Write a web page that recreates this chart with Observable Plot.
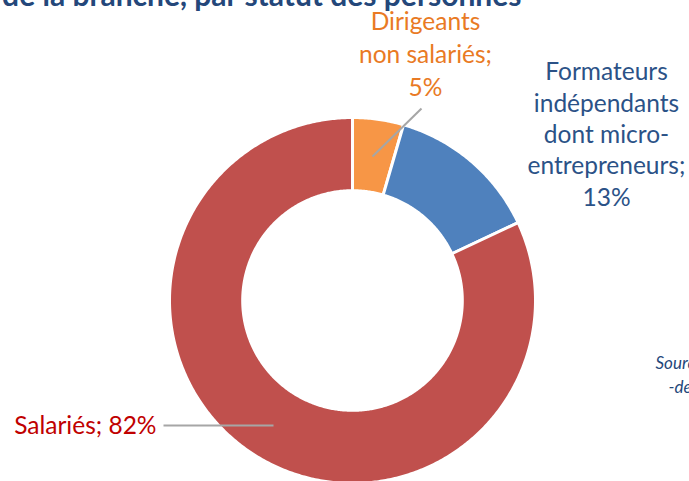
<!DOCTYPE html>
<html><head><meta charset="utf-8">
<script src="https://cdn.jsdelivr.net/npm/d3@7"></script>
<script src="https://cdn.jsdelivr.net/npm/@observablehq/plot@0.6"></script>
<style>
html,body{margin:0;padding:0;background:#fff;overflow:hidden;}
svg{display:block;font-family:Lato,"Open Sans",sans-serif;}
</style></head>
<body><div id="chart"></div>
<script>
// Data
const categories = ["Dirigeants non salariés", "Formateurs indépendants dont micro-entrepreneurs", "Salariés"];
const shares = [4.5, 13.5, 82];
const labelLines = [
  ["Dirigeants", "non salariés;", "5%"],
  ["Formateurs", "indépendants", "dont micro-", "entrepreneurs;", "13%"],
  ["Salariés; 82%"]
];
const sliceColors = ["#F79646", "#4F81BD", "#C0504D"];
const textColors = ["#E97A24", "#2B5287", "#C00000"];
const titleText = "Répartition des effectifs de la branche, par statut des personnes";
const sourceLines = ["Source : enquête de branche", "-de la branche"];

// Layout
const W = 689, H = 481;
const cx = 352, cy = 300, R = 183;  // pixels
const inner = 0.6;
const X = x => (x - cx) / R, Y = y => (cy - y) / R;

const pie = d3.pie().sort(null).value(d => d.v)(categories.map((c, i) => ({c, v: shares[i]})));
const slicePts = [];
pie.forEach(a => {
  const n = Math.max(8, Math.ceil((a.endAngle - a.startAngle) / 0.01));
  const pts = [];
  for (let k = 0; k <= n; k++) { const t = a.startAngle + (a.endAngle - a.startAngle) * k / n; pts.push([Math.sin(t), Math.cos(t)]); }
  for (let k = n; k >= 0; k--) { const t = a.startAngle + (a.endAngle - a.startAngle) * k / n; pts.push([inner * Math.sin(t), inner * Math.cos(t)]); }
  pts.push(pts[0]);
  pts.forEach(p => slicePts.push({cat: a.data.c, x: p[0], y: p[1]}));
});

// label positions (pixels)
const labelPos = [
  {x: 425, y: 22, dy: 33, anchor: "middle"},
  {x: 606, y: 72, dy: 31.3, anchor: "middle"},
  {x: 156, y: 426, dy: 0, anchor: "end"}
];
const labelData = [];
labelLines.forEach((lines, i) => lines.forEach((t, j) => labelData.push({t, i, x: X(labelPos[i].x), y: Y(labelPos[i].y + j * labelPos[i].dy), anchor: labelPos[i].anchor})));

const leaders = [
  {x1: X(372), y1: Y(156), x2: X(421), y2: Y(108)},
  {x1: X(163), y1: Y(425), x2: X(273), y2: Y(425)}
];

const plot = Plot.plot({
  width: W, height: H,
  margin: 0,
  x: {domain: [X(0), X(W)], range: [0, W], axis: null},
  y: {domain: [Y(0), Y(H)], range: [0, H], axis: null},
  color: {domain: categories, range: sliceColors},
  marks: [
    Plot.line(slicePts, {x: "x", y: "y", z: "cat", fill: "cat", stroke: "white", strokeWidth: 3, curve: "linear"}),
    Plot.link(leaders, {x1: "x1", y1: "y1", x2: "x2", y2: "y2", stroke: "#A6A6A6", strokeWidth: 2}),
    Plot.text(labelData.filter(d => d.anchor === "middle"), {x: "x", y: "y", text: "t", fill: d => textColors[d.i], fontSize: 24.5, textAnchor: "middle"}),
    Plot.text(labelData.filter(d => d.anchor === "end"), {x: "x", y: "y", text: "t", fill: d => textColors[d.i], fontSize: 24.5, textAnchor: "end"}),
    Plot.text([titleText], {x: X(521), y: Y(-4), text: d => d, fill: "#24477A", fontSize: 30, fontWeight: "bold", textAnchor: "end"}),
    Plot.text(sourceLines, {x: (d, i) => X(655 + i * 13), y: (d, i) => Y(363 + i * 24), text: d => d, fill: "#24477A", fontSize: 17, fontStyle: "italic", textAnchor: "start"})
  ]
});
document.getElementById("chart").appendChild(plot);
</script></body></html>
